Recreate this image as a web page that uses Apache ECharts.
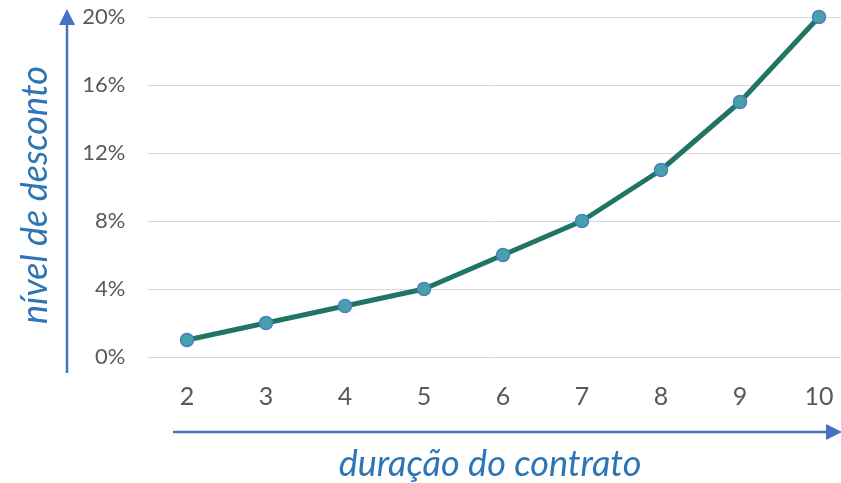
<!DOCTYPE html>
<html>
<head>
<meta charset="utf-8">
<script src="https://cdn.jsdelivr.net/npm/echarts@6/dist/echarts.min.js"></script>
<style>
  html, body { margin: 0; padding: 0; background: #fff; }
  #chart { width: 841px; height: 483px; }
</style>
</head>
<body>
<div id="chart"></div>
<script>
// duração do contrato (anos) vs nível de desconto (%)
const durations = ["2", "3", "4", "5", "6", "7", "8", "9", "10"];
const discounts = [1, 2, 3, 4, 6, 8, 11, 15, 20];
const yTicks = [0, 4, 8, 12, 16, 20];

const arrowBlue = "#4472C4";
const titleBlue = "#2E75B6";
const labelFont = "Lato, 'Open Sans', sans-serif";

const chart = echarts.init(document.getElementById("chart"));

chart.setOption({
  animation: false,
  grid: {
    left: 147.5, top: 17, width: 711, height: 340,
    containLabel: false,
    outerBoundsMode: "none"
  },
  xAxis: {
    type: "category",
    boundaryGap: true,
    data: durations,
    axisLine: { show: false },
    axisTick: { show: false },
    axisLabel: {
      color: "#595959",
      fontSize: 25,
      fontFamily: labelFont,
      margin: 27
    }
  },
  yAxis: {
    type: "value",
    min: yTicks[0],
    max: yTicks[yTicks.length - 1],
    interval: 4,
    axisLine: { show: false },
    axisTick: { show: false },
    splitLine: { lineStyle: { color: "#d9d9d9", width: 1 } },
    axisLabel: {
      color: "#595959",
      fontSize: 22,
      fontFamily: labelFont,
      margin: 22,
      formatter: v => v + "%"
    }
  },
  series: [
    {
      type: "line",
      data: discounts,
      symbol: "circle",
      symbolSize: 13,
      lineStyle: { color: "#217565", width: 5 },
      itemStyle: { color: "#47a1a6", borderColor: "#4a7fcb", borderWidth: 1.5 }
    }
  ],
  graphic: [
    // vertical arrow
    { type: "line", shape: { x1: 67, y1: 373, x2: 67, y2: 24 }, style: { stroke: arrowBlue, lineWidth: 2.5 } },
    { type: "polygon", shape: { points: [[67, 9], [59, 25], [75, 25]] }, style: { fill: arrowBlue } },
    // horizontal arrow
    { type: "line", shape: { x1: 173, y1: 432, x2: 828, y2: 432 }, style: { stroke: arrowBlue, lineWidth: 2.5 } },
    { type: "polygon", shape: { points: [[842, 432], [826, 424], [826, 440]] }, style: { fill: arrowBlue } },
    {
      type: "text",
      x: 35, y: 195,
      rotation: Math.PI / 2,
      style: {
        text: "nível de desconto",
        fill: titleBlue,
        font: "italic 36px Lato, 'Open Sans', sans-serif",
        align: "center",
        verticalAlign: "middle"
      }
    },
    {
      type: "text",
      x: 490, y: 464,
      style: {
        text: "duração do contrato",
        fill: titleBlue,
        font: "italic 36px Lato, 'Open Sans', sans-serif",
        align: "center",
        verticalAlign: "middle"
      }
    }
  ]
});
</script>
</body>
</html>
